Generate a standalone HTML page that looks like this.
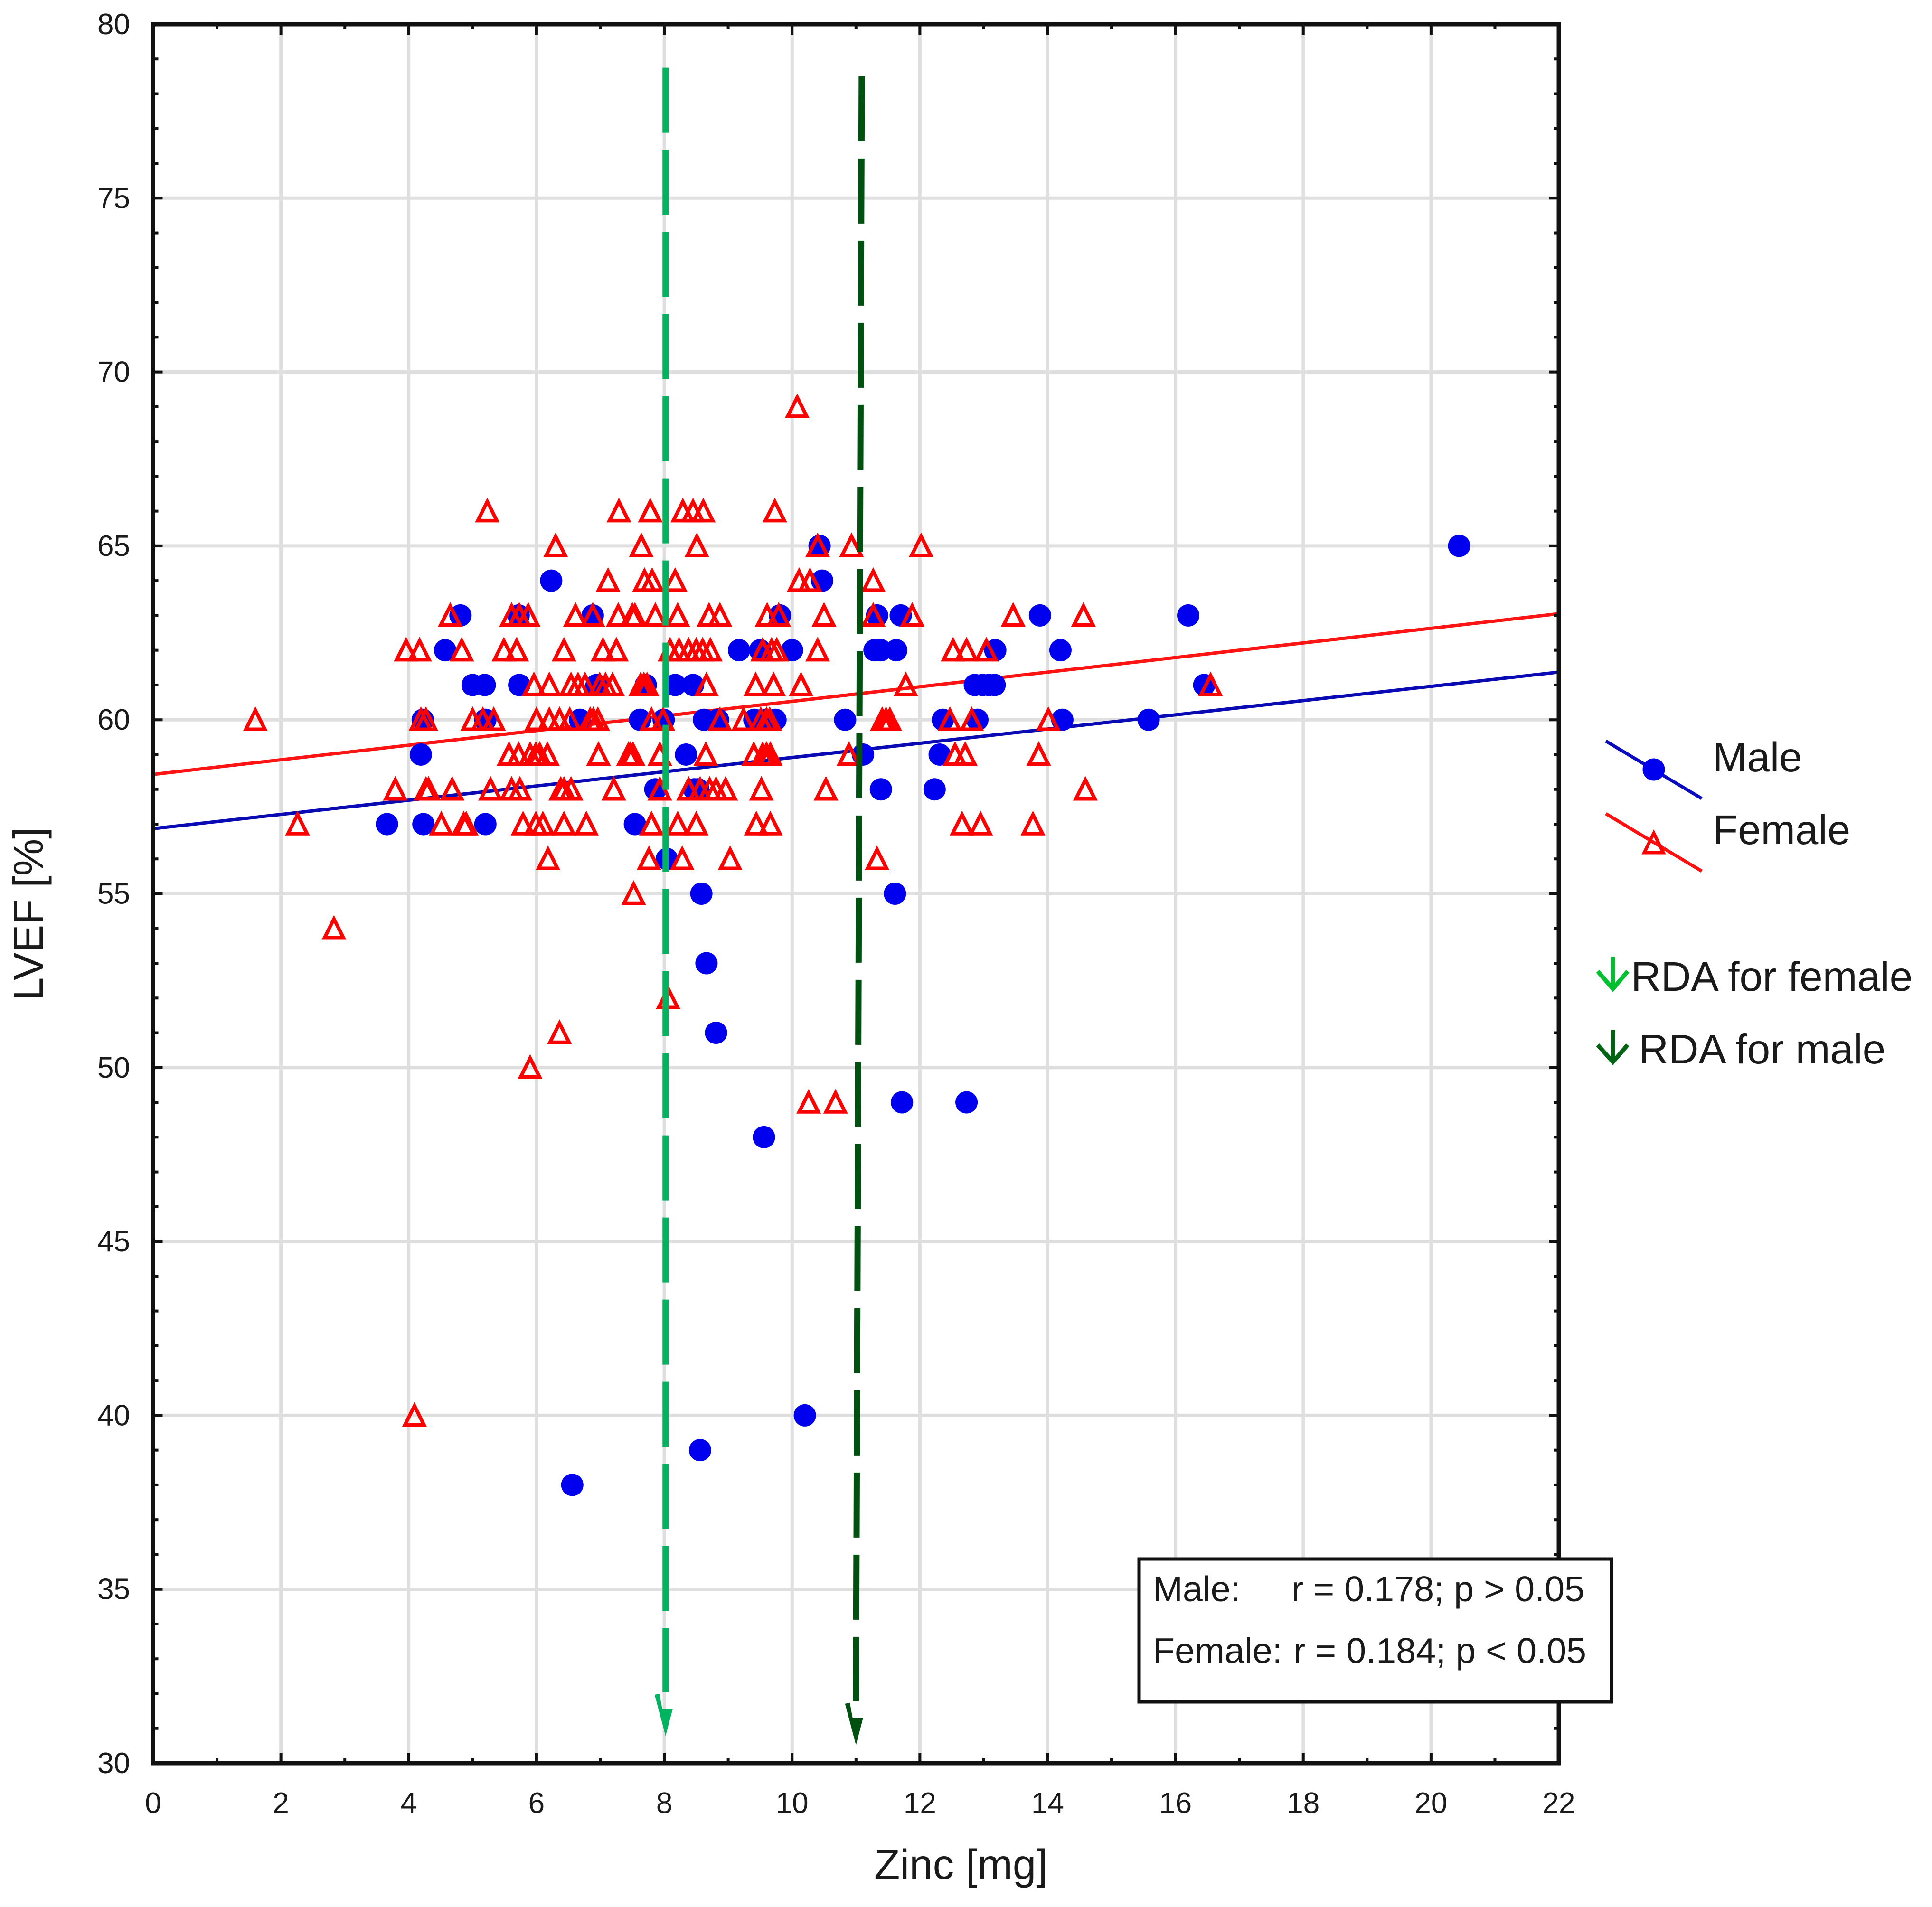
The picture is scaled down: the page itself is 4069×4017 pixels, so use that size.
<!DOCTYPE html>
<html lang="en">
<head>
<meta charset="utf-8">
<title>LVEF vs Zinc</title>
<style>
html,body{margin:0;padding:0;background:#fff;}
svg{display:block;}
text{font-family:"Liberation Sans",Arial,sans-serif;fill:#1a1a1a;}
</style>
</head>
<body>
<svg id="chart" xmlns="http://www.w3.org/2000/svg" width="4069" height="4017" viewBox="0 0 4069 4017">
  <rect x="0" y="0" width="4069" height="4017" fill="#fff"/>
  <g id="grid"></g>
  <g id="lines"></g>
  <g id="males"></g>
  <g id="females"></g>
  <g id="axes"></g>
  <g id="rda"></g>
  <text x="2024" y="3958" font-size="89" text-anchor="middle">Zinc [mg]</text>
  <text transform="translate(90,1925) rotate(-90)" font-size="88" text-anchor="middle">LVEF [%]</text>

  <g>
    <line x1="3382" y1="1561" x2="3584" y2="1682" stroke="#0a0ac0" stroke-width="7"/>
    <circle cx="3483" cy="1621" r="23.5" fill="#0000ee"/>
    <text x="3607" y="1625" font-size="87">Male</text>
    <line x1="3382" y1="1714" x2="3584" y2="1835" stroke="#ff1010" stroke-width="7"/>
    <polygon points="3483,1755 3503,1796 3463,1796" fill="none" stroke="#ff0000" stroke-width="7"/>
    <text x="3607" y="1778" font-size="87">Female</text>

    <g fill="none" stroke="#00c030" stroke-width="9">
      <path d="M3397 2015V2083M3365 2046L3397 2083L3428 2046"/>
    </g>
    <text x="3435" y="2087" font-size="87.5">RDA for female</text>
    <g fill="none" stroke="#006414" stroke-width="9">
      <path d="M3397 2169V2237M3365 2201L3397 2237L3428 2201"/>
    </g>
    <text x="3451" y="2240" font-size="87.5">RDA for male</text>
  </g>

  <g>
    <rect x="2399" y="3284" width="995" height="301" fill="#fff" stroke="#111" stroke-width="7"/>
    <text x="2428" y="3373" font-size="75.5">Male:</text>
    <text x="2720" y="3373" font-size="75.5">r = 0.178; p &gt; 0.05</text>
    <text x="2428" y="3503" font-size="75.5">Female:</text>
    <text x="2724" y="3503" font-size="75.5">r = 0.184; p &lt; 0.05</text>
  </g>
</svg>
<script>
const xTickLabels = [0,2,4,6,8,10,12,14,16,18,20,22];
const yTickLabels = [30,35,40,45,50,55,60,65,70,75,80];

const maleZinc = [
  20.44,10.43,
  6.23,10.47,
  4.81,5.72,6.88,9.81,11.33,11.70,13.88,16.20,
  4.57,9.17,9.50,10.00,11.29,11.39,11.63,13.18,14.20,
  5.00,5.19,5.73,6.94,7.71,8.17,8.45,12.86,12.98,13.08,13.17,16.45,
  4.22,5.20,6.68,7.62,7.99,8.62,8.84,9.41,9.60,9.74,10.83,12.36,12.90,14.23,15.58,
  4.19,8.34,11.11,12.31,
  7.86,8.47,8.53,11.39,12.23,
  3.66,4.23,5.20,7.54,
  8.04,
  8.58,11.61,
  8.66,
  8.81,
  11.72,12.73,
  9.56,
  10.20,
  8.56,
  6.56
];
const maleLvef = [
  65,65,
  64,64,
  63,63,63,63,63,63,63,63,
  62,62,62,62,62,62,62,62,62,
  61,61,61,61,61,61,61,61,61,61,61,61,
  60,60,60,60,60,60,60,60,60,60,60,60,60,60,60,
  59,59,59,59,
  58,58,58,58,58,
  57,57,57,57,
  56,
  55,55,
  53,
  51,
  49,49,
  48,
  40,
  39,
  38
];

const femaleZinc = [
  10.08,
  5.23,7.29,7.78,8.29,8.45,8.61,9.73,
  6.30,7.64,8.51,10.40,10.93,12.02,
  7.12,7.69,7.81,8.17,10.11,10.28,11.27,
  4.65,5.61,5.73,5.87,6.61,6.88,7.28,7.50,7.54,7.86,8.21,8.70,8.87,9.61,9.79,10.50,11.27,11.88,13.46,14.56,
  3.96,4.17,4.83,5.49,5.69,6.43,7.04,7.25,8.09,8.23,8.38,8.50,8.60,8.72,9.54,9.68,9.76,10.40,12.52,12.73,13.04,
  5.96,6.20,6.54,6.65,6.76,6.99,7.08,7.19,7.63,7.68,7.73,8.66,9.43,9.71,10.14,11.78,16.55,
  1.60,4.19,4.27,5.00,5.16,5.33,6.00,6.20,6.36,6.52,6.84,6.89,6.96,7.80,7.98,8.87,9.24,9.51,9.60,9.65,11.41,11.47,11.53,12.47,12.81,14.01,
  5.57,5.72,5.90,5.99,6.05,6.17,6.97,7.44,7.47,7.51,7.93,8.65,9.40,9.54,9.60,9.66,10.89,12.55,12.71,13.86,
  3.79,4.27,4.31,4.68,5.28,5.61,5.74,6.38,6.43,6.54,7.21,7.93,8.38,8.56,8.71,8.81,8.96,9.52,10.53,14.59,
  2.26,4.51,4.86,4.90,5.79,5.99,6.10,6.43,6.78,7.80,8.21,8.50,9.44,9.66,12.66,12.95,13.77,
  6.18,7.76,8.28,9.03,11.33,
  7.52,
  2.83,
  8.06,
  6.36,
  5.90,
  10.26,10.68,
  4.09
];
const femaleLvef = [
  69,
  66,66,66,66,66,66,66,
  65,65,65,65,65,65,
  64,64,64,64,64,64,64,
  63,63,63,63,63,63,63,63,63,63,63,63,63,63,63,63,63,63,63,63,
  62,62,62,62,62,62,62,62,62,62,62,62,62,62,62,62,62,62,62,62,62,
  61,61,61,61,61,61,61,61,61,61,61,61,61,61,61,61,61,
  60,60,60,60,60,60,60,60,60,60,60,60,60,60,60,60,60,60,60,60,60,60,60,60,60,60,
  59,59,59,59,59,59,59,59,59,59,59,59,59,59,59,59,59,59,59,59,
  58,58,58,58,58,58,58,58,58,58,58,58,58,58,58,58,58,58,58,58,
  57,57,57,57,57,57,57,57,57,57,57,57,57,57,57,57,57,
  56,56,56,56,56,
  55,
  54,
  52,
  51,
  50,
  49,49,
  40
];

const trendZinc = [0,22];
const maleTrend = [56.87,61.37];
const femaleTrend = [58.43,63.05];
const rdaFemaleZinc = [8.02,8.02];
const rdaFemaleLvef = [78.75,30.78];
const rdaMaleZinc = [11.09,11.0];
const rdaMaleLvef = [78.5,30.52];

const SVG_NS = "http://www.w3.org/2000/svg";
function xScale(v){ return 322.5 + v * 134.57; }
function yScale(v){ return 51 + (80 - v) * 73.26; }
function make(tag, attrs, parent){
  const el = document.createElementNS(SVG_NS, tag);
  for (const k in attrs) el.setAttribute(k, attrs[k]);
  parent.appendChild(el);
  return el;
}

const grid = document.getElementById('grid');
const axes = document.getElementById('axes');
const lines = document.getElementById('lines');
const males = document.getElementById('males');
const females = document.getElementById('females');
const rda = document.getElementById('rda');

const xMin = xTickLabels[0], xMax = xTickLabels[xTickLabels.length-1];
const yMin = yTickLabels[0], yMax = yTickLabels[yTickLabels.length-1];

xTickLabels.forEach(function(v){
  if (v === xMin || v === xMax) return;
  const g = make('line', {x1:xScale(v), x2:xScale(v), y1:yScale(yMax), y2:yScale(yMin), stroke:'#dfdfdf', 'stroke-width':7}, grid);
  
  
});
yTickLabels.forEach(function(v){
  if (v === yMin || v === yMax) return;
  const g = make('line', {x1:xScale(xMin), x2:xScale(xMax), y1:yScale(v), y2:yScale(v), stroke:'#dfdfdf', 'stroke-width':7}, grid);
  
  
});

function trend(values, colour, name){
  const l = make('line', {x1:xScale(trendZinc[0]), y1:yScale(values[0]), x2:xScale(trendZinc[1]), y2:yScale(values[1]), stroke:colour, 'stroke-width':7}, lines);
  
  
}
trend(maleTrend, '#0a0ab4', 'male-trend-line');
trend(femaleTrend, '#ff1414', 'female-trend-line');

maleZinc.forEach(function(z, i){
  const c = make('circle', {cx:xScale(z), cy:yScale(maleLvef[i]), r:23.5, fill:'#0000ee'}, males);
  
  
});
femaleZinc.forEach(function(z, i){
  const x = xScale(z), y = yScale(femaleLvef[i]);
  const p = make('polygon', {points:(x)+','+(y-20)+' '+(x+20)+','+(y+20)+' '+(x-20)+','+(y+20), fill:'none', stroke:'#ff0000', 'stroke-width':7.5}, females);
  
  
});

const frame = make('rect', {x:xScale(xMin), y:yScale(yMax), width:xScale(xMax)-xScale(xMin), height:yScale(yMin)-yScale(yMax), fill:'none', stroke:'#111', 'stroke-width':9}, axes);



for (let v = xMin; v <= xMax; v++){
  const len = v % 2 === 0 ? 22 : 11;
  [[yScale(yMin), -1], [yScale(yMax), 1]].forEach(function(e){
    const t = make('line', {x1:xScale(v), x2:xScale(v), y1:e[0], y2:e[0]+e[1]*len, stroke:'#111', 'stroke-width':6}, axes);
    
    
  });
}
for (let v = yMin; v <= yMax; v++){
  const len = v % 5 === 0 ? 20 : 11;
  [[xScale(xMin), 1], [xScale(xMax), -1]].forEach(function(e){
    const t = make('line', {x1:e[0], x2:e[0]+e[1]*len, y1:yScale(v), y2:yScale(v), stroke:'#111', 'stroke-width':6}, axes);
    
    
  });
}
xTickLabels.forEach(function(v){
  const t = make('text', {x:xScale(v), y:3819, 'font-size':62, 'text-anchor':'middle'}, axes);
  t.textContent = String(v);
  
  
});
yTickLabels.forEach(function(v){
  const t = make('text', {x:274, y:yScale(v)+21, 'font-size':62, 'text-anchor':'end'}, axes);
  t.textContent = String(v);
  
  
});

function rdaLine(zinc, lvef, colour, name){
  const x0 = xScale(zinc[0]), x1 = xScale(zinc[1]);
  const y0 = yScale(lvef[0]), tipY = yScale(lvef[1]);
  const l = make('line', {x1:x0, y1:y0, x2:x1, y2:tipY-92, stroke:colour, 'stroke-width':13, 'stroke-dasharray':'137 36'}, rda);
  
  
  const head = make('path', {d:'M'+(x1-23)+' '+(tipY-87)+'L'+(x1-13)+' '+(tipY-89)+'L'+(x1-7)+' '+(tipY-57)+'L'+(x1+15)+' '+(tipY-57)+'L'+x1+' '+tipY+'Z', fill:colour}, rda);
  
  
}
rdaLine(rdaFemaleZinc, rdaFemaleLvef, '#00b35f', 'rda-female');
rdaLine(rdaMaleZinc, rdaMaleLvef, '#005010', 'rda-male');
</script>
</body>
</html>
